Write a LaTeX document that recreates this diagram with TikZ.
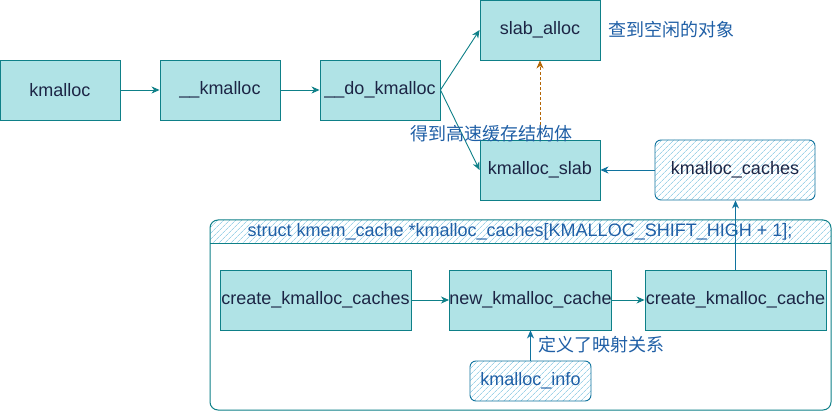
\documentclass[tikz,border=0pt]{standalone}
\usepackage{fontspec}
\setmainfont{Liberation Sans}
\newfontfamily\cjk{Noto Sans CJK SC}
\usetikzlibrary{arrows.meta,patterns.meta}
\definecolor{boxfill}{HTML}{B0E3E6}
\definecolor{boxline}{HTML}{0E8088}
\definecolor{blueline}{HTML}{10739E}
\definecolor{hatch}{HTML}{9FD3E8}
\definecolor{txt}{HTML}{1C2545}
\definecolor{lbl}{HTML}{1F5FA6}
\definecolor{orangeline}{HTML}{B46504}
\tikzset{
  fnbox/.style={draw=boxline, fill=boxfill, line width=0.9pt, inner sep=0pt, text=txt,
    font=\fontsize{18}{20}\selectfont},
  hatchbox/.style={draw=blueline, rounded corners=6pt, line width=0.9pt, inner sep=0pt,
    pattern={Lines[angle=45,distance=4pt,line width=0.7pt]}, pattern color=hatch,
    font=\fontsize{18}{20}\selectfont},
  conn/.style={draw=boxline, line width=0.9pt, -{Stealth[length=8pt,width=7pt,inset=2.5pt]}},
  bconn/.style={draw=blueline, line width=0.9pt, -{Stealth[length=8pt,width=7pt,inset=2.5pt]}},
  dconn/.style={draw=orangeline, line width=0.9pt, dash pattern=on 3pt off 2pt,
    -{Stealth[length=8pt,width=7pt,inset=2.5pt]}},
  lbltext/.style={anchor=west, inner sep=0pt, text=lbl, font=\fontsize{18}{20}\selectfont\cjk},
}
\begin{document}
\begin{tikzpicture}[x=1pt,y=-1pt]
\useasboundingbox (0,0) rectangle (832,411);
\fill[white] (0,0) rectangle (832,411);

% container
\begin{scope}
  \clip[rounded corners=8pt] (210,220) rectangle (831,410);
  \fill[pattern={Lines[angle=45,distance=4pt,line width=0.7pt]}, pattern color=hatch]
    (210,220) rectangle (831,243);
\end{scope}
\draw[boxline, line width=0.9pt] (210,243) -- (831,243);
\draw[boxline, line width=1pt, rounded corners=8pt] (210,220) rectangle (831,410);
\node[inner sep=0pt, text=lbl, font=\fontsize{18}{20}\selectfont] (hdr) at (520,232)
  {struct kmem\_cache *kmalloc\_caches[KMALLOC\_SHIFT\_HIGH + 1];};

% top row
\node[fnbox, minimum width=120pt, minimum height=60pt] (k1) at (60,90) {kmalloc};
\node[fnbox, minimum width=120pt, minimum height=60pt] (k2) at (220,90) {\_\_kmalloc};
\node[fnbox, minimum width=120pt, minimum height=60pt] (k3) at (380,90) {\_\_do\_kmalloc};
\node[fnbox, minimum width=120pt, minimum height=60pt] (sa) at (540,30) {slab\_alloc};
\node[fnbox, minimum width=120pt, minimum height=60pt] (ks) at (540,170) {kmalloc\_slab};
\node[hatchbox, minimum width=160pt, minimum height=60pt, text=txt] (kc) at (735,170) {kmalloc\_caches};

% bottom row
\node[fnbox, minimum width=191pt, minimum height=60pt] (cs) at (315.5,300) {create\_kmalloc\_caches};
\node[fnbox, minimum width=161pt, minimum height=60pt] (nc) at (530.5,300) {new\_kmalloc\_cache};
\node[fnbox, minimum width=181pt, minimum height=60pt] (ckc) at (735.5,300) {create\_kmalloc\_cache};
\node[hatchbox, minimum width=121pt, minimum height=40pt, text=lbl] (ki) at (530.5,381) {kmalloc\_info};

% connectors
\draw[conn] (k1) -- (k2);
\draw[conn] (k2) -- (k3);
\draw[conn] (k3.east) -- (sa.west);
\draw[conn] (k3.east) -- (ks.west);
\draw[dconn] (ks.north) -- (sa.south);
\draw[bconn] (kc.west) -- (ks.east);
\draw[bconn] (ckc.north) -- (ckc.north |- kc.south);
\draw[conn] (cs) -- (nc);
\draw[conn] (nc) -- (ckc);
\draw[bconn] (ki.north) -- (ki.north |- nc.south);

% labels
\node[lbltext] (l1) at (608,30) {查到空闲的对象};
\node[lbltext] (l2) at (410,134) {得到高速缓存结构体};
\node[lbltext] (l3) at (538,345) {定义了映射关系};
\end{tikzpicture}
\end{document}
